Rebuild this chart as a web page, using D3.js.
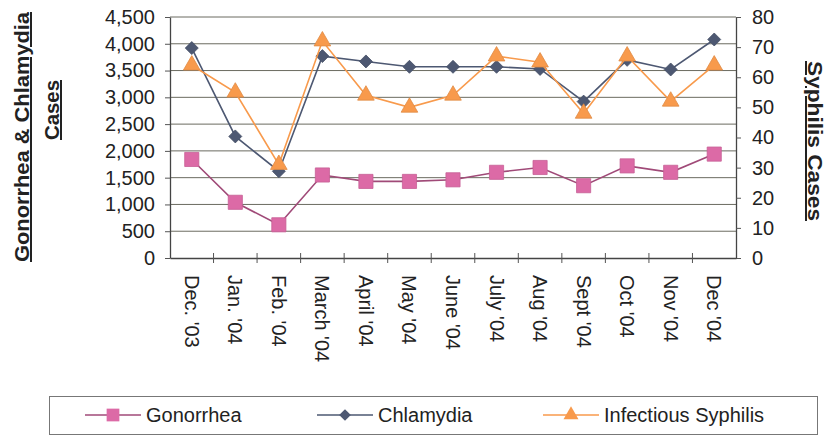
<!DOCTYPE html>
<html>
<head>
<meta charset="utf-8">
<script src="https://cdn.jsdelivr.net/npm/d3@7"></script>
<style>
    body { margin: 0; background: #fff; }
    text { font-family: "Liberation Sans", Arial, sans-serif; }
</style>
</head>
<body>
<svg id="chart"></svg>
<script>
const months = ['Dec. \'03', 'Jan. \'04', 'Feb. \'04', 'March \'04', 'April \'04', 'May \'04', 'June \'04',
    'July \'04', 'Aug \'04', 'Sept \'04', 'Oct \'04', 'Nov \'04', 'Dec \'04']
const gonorrhea = [1840, 1040, 620, 1550, 1430, 1430, 1460, 1600, 1690, 1350, 1720, 1600, 1940]
const chlamydia = [3920, 2270, 1620, 3770, 3670, 3570, 3570, 3570, 3530, 2920, 3700, 3520, 4080]
const syphilis = [64, 55, 31, 72, 54, 50, 54, 67, 65, 48, 67, 52, 64]
const leftTicks = [0, 500, 1000, 1500, 2000, 2500, 3000, 3500, 4000, 4500]
const rightTicks = [0, 10, 20, 30, 40, 50, 60, 70, 80]

const colours = {
    gonorrhea: '#dc6aa6',
    gonorrheaLine: '#a04a78',
    chlamydia: '#4d5872',
    syphilis: '#f89a4c'
}

const svgWidth = 830
const svgHeight = 438
const margin = { left: 170, right: 94, top: 17, bottom: 180 }
const width = svgWidth - margin.left - margin.right
const height = svgHeight - margin.top - margin.bottom

const svg = d3.select('#chart')
    .attr('width', svgWidth)
    .attr('height', svgHeight)

const chart = svg.append('g')
    .attr('transform', `translate(${[margin.left, margin.top]})`)

const x = d3.scaleBand()
    .domain(months)
    .range([0, width])

const yLeft = d3.scaleLinear().domain([0, 4500]).range([height, 0])
const yRight = d3.scaleLinear().domain([0, 80]).range([height, 0])

// gridlines
chart.append('g')
    .selectAll('line')
    .data(leftTicks.slice(1))
    .join('line')
    .attr('x1', 0)
    .attr('x2', width)
    .attr('y1', d => yLeft(d))
    .attr('y2', d => yLeft(d))
    .attr('stroke', '#6b6b60')
    .attr('stroke-width', 1)

const styleAxis = g => {
    g.select('.domain').attr('stroke', '#444').attr('stroke-width', 1.3)
    g.selectAll('.tick line').attr('stroke', '#555')
    g.selectAll('.tick text')
        .attr('fill', '#222')
        .style('font-size', '20px')
}

chart.append('g')
    .call(d3.axisLeft(yLeft).tickValues(leftTicks).tickFormat(d3.format(',')).tickSize(5).tickPadding(10).tickSizeOuter(0))
    .call(styleAxis)

chart.append('g')
    .attr('transform', `translate(${width}, 0)`)
    .call(d3.axisRight(yRight).tickValues(rightTicks).tickSize(5).tickPadding(11).tickSizeOuter(0))
    .call(styleAxis)

const xAxis = chart.append('g')
    .attr('transform', `translate(0, ${height})`)
    .call(d3.axisBottom(x).tickSize(0).tickSizeOuter(0))
    .call(styleAxis)

// tick marks between categories
xAxis.selectAll('.sep')
    .data(months.slice(1))
    .join('line')
    .attr('class', 'sep')
    .attr('x1', d => x(d))
    .attr('x2', d => x(d))
    .attr('y1', -5)
    .attr('y2', 5)
    .attr('stroke', '#555')

xAxis.selectAll('.tick text')
    .style('font-size', '20px')
    .attr('transform', 'rotate(90)')
    .attr('text-anchor', 'start')
    .attr('dy', '0.35em')
    .attr('x', 17)
    .attr('y', 0)

const cx = d => x(d) + x.bandwidth() / 2

const drawSeries = (values, scale, lineColour, marker, markerColour) => {
    const pts = values.map((v, i) => [cx(months[i]), scale(v)])
    chart.append('path')
        .attr('d', d3.line()(pts))
        .attr('fill', 'none')
        .attr('stroke', lineColour)
        .attr('stroke-width', 1.6)
    chart.append('g')
        .selectAll('path')
        .data(pts)
        .join('path')
        .attr('transform', d => `translate(${d})`)
        .attr('d', marker)
        .attr('fill', markerColour)
        .attr('stroke', d3.color(markerColour).darker(0.3))
        .attr('stroke-width', 0.8)
}

const square = d3.symbol(d3.symbolSquare, 200)()
const diamond = 'M0,-6.5L6.5,0L0,6.5L-6.5,0Z'
const triangle = d3.symbol(d3.symbolTriangle, 120)()

drawSeries(gonorrhea, yLeft, colours.gonorrheaLine, square, colours.gonorrhea)
drawSeries(chlamydia, yLeft, colours.chlamydia, diamond, colours.chlamydia)
drawSeries(syphilis, yRight, colours.syphilis, triangle, colours.syphilis)

// axis titles
const title = (tx, ty, rot, txt, len) => {
    svg.append('text')
        .attr('transform', `translate(${tx}, ${ty}) rotate(${rot})`)
        .attr('text-anchor', 'middle')
        .attr('textLength', len)
        .attr('lengthAdjust', 'spacingAndGlyphs')
        .style('font-size', '20px')
        .style('font-weight', 'bold')
        .style('text-decoration', 'underline')
        .attr('fill', '#222')
        .text(txt)
}
title(29, 137, -90, 'Gonorrhea & Chlamydia', 250)
title(59, 110, -90, 'Cases', 60)
title(808, 141, 90, 'Syphilis Cases', 160)

// legend
const legend = svg.append('g')
legend.append('rect')
    .attr('x', 49.5).attr('y', 396.5)
    .attr('width', 768).attr('height', 38)
    .attr('fill', '#fff')
    .attr('stroke', '#777')

const legendItems = [
    { name: 'Gonorrhea', x: 85, line: colours.gonorrheaLine, marker: square, fill: colours.gonorrhea },
    { name: 'Chlamydia', x: 317, line: colours.chlamydia, marker: diamond, fill: colours.chlamydia },
    { name: 'Infectious Syphilis', x: 543, line: colours.syphilis, marker: triangle, fill: colours.syphilis }
]
const li = legend.selectAll('g.item')
    .data(legendItems)
    .join('g')
    .attr('transform', d => `translate(${d.x}, 415)`)
li.append('line')
    .attr('x1', 0).attr('x2', 56)
    .attr('stroke', d => d.line)
    .attr('stroke-width', 1.6)
li.append('path')
    .attr('transform', 'translate(28, 0) scale(0.9)')
    .attr('d', d => d.marker)
    .attr('fill', d => d.fill)
li.append('text')
    .attr('x', 61)
    .attr('dy', '0.35em')
    .style('font-size', '20px')
    .attr('fill', '#222')
    .text(d => d.name)
</script>
</body>
</html>
